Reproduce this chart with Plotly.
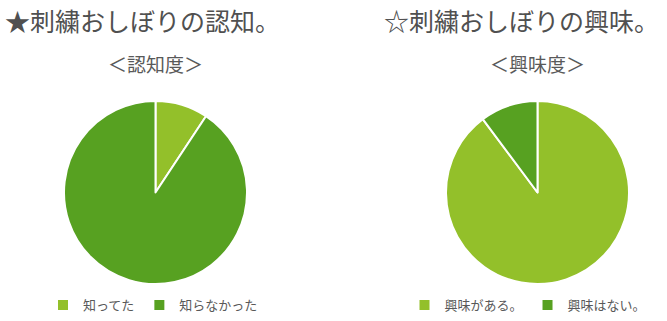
import plotly.graph_objects as go

W, H = 667, 321

aware_labels = ["知ってた", "知らなかった"]
aware_values = [9.3, 90.7]
interest_labels = ["興味がある。", "興味はない。"]
interest_values = [89.8, 10.2]

title_left = "★刺繍おしぼりの認知。"
title_right = "☆刺繍おしぼりの興味。"
sub_left = "＜認知度＞"
sub_right = "＜興味度＞"

colors = ["#93C02A", "#57A121"]
txt = "#595959"
FONT = "Noto Sans CJK JP"

def px_x(x):
    return x / W

def px_y(y):
    return 1 - y / H

fig = go.Figure()
fig.add_trace(go.Pie(
    labels=aware_labels, values=aware_values, sort=False, direction="clockwise",
    rotation=0, textinfo="none", hoverinfo="label+percent",
    marker=dict(colors=colors, line=dict(color="white", width=2)),
    domain=dict(x=[px_x(64), px_x(247)], y=[px_y(284), px_y(101)]),
    legend="legend",
))
fig.add_trace(go.Pie(
    labels=interest_labels, values=interest_values, sort=False, direction="clockwise",
    rotation=0, textinfo="none", hoverinfo="label+percent",
    marker=dict(colors=colors, line=dict(color="white", width=2)),
    domain=dict(x=[px_x(446), px_x(629)], y=[px_y(284), px_y(101)]),
    legend="legend2",
))

ann = []
ann.append(dict(text=title_left, x=px_x(3), y=1, xanchor="left", yanchor="top",
                font=dict(size=25, color="#505050", family=FONT)))
ann.append(dict(text=title_right, x=px_x(382), y=1, xanchor="left", yanchor="top",
                font=dict(size=25, color="#505050", family=FONT)))
ann.append(dict(text=sub_left, x=px_x(155), y=px_y(63), xanchor="center", yanchor="middle",
                font=dict(size=19, color=txt, family=FONT)))
ann.append(dict(text=sub_right, x=px_x(537), y=px_y(63), xanchor="center", yanchor="middle",
                font=dict(size=19, color=txt, family=FONT)))
for a in ann:
    a.update(xref="paper", yref="paper", showarrow=False)

leg_common = dict(orientation="h", font=dict(size=13, color=txt, family=FONT),
                  bgcolor="rgba(0,0,0,0)", yanchor="middle", xanchor="center",
                  itemwidth=30, traceorder="normal")
fig.update_layout(
    width=W, height=H, margin=dict(l=0, r=0, t=0, b=0),
    paper_bgcolor="white", plot_bgcolor="white",
    annotations=ann, showlegend=True,
    legend=dict(x=px_x(153), y=px_y(305), **leg_common),
    legend2=dict(x=px_x(528), y=px_y(305), **leg_common),
    font=dict(family=FONT, color=txt),
)
fig.write_html("out.html")
